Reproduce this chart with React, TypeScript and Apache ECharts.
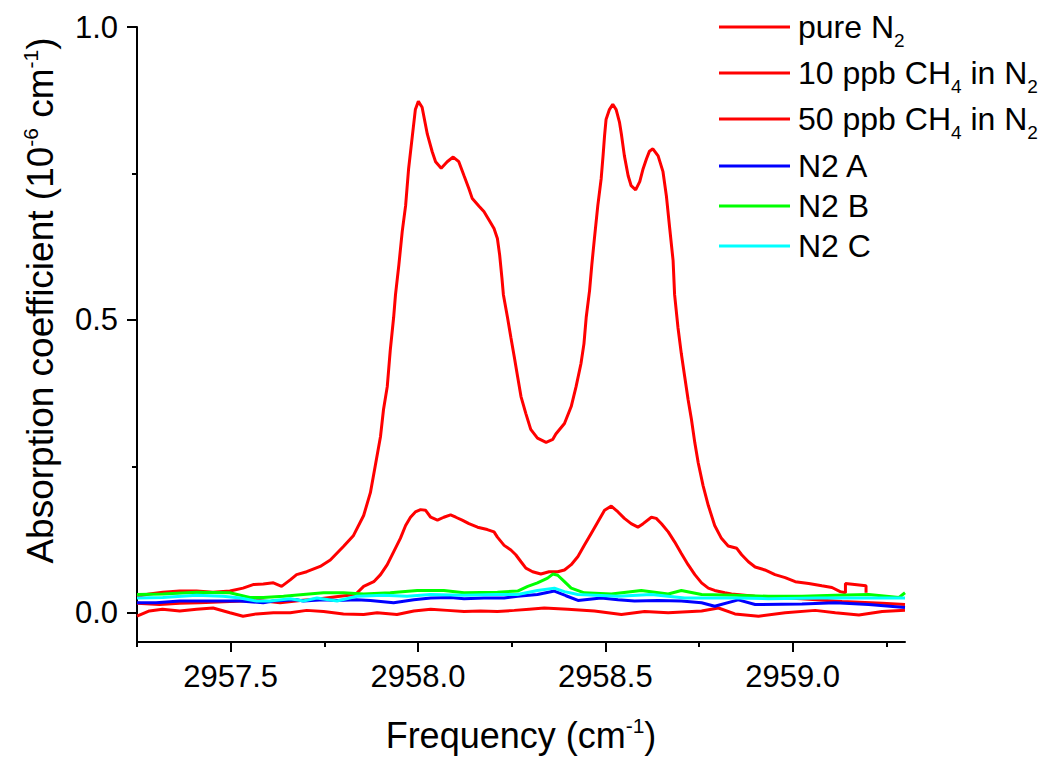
import React, { useEffect, useRef } from 'react';
import * as echarts from 'echarts';

const FONT = '"Liberation Sans", Arial, Helvetica, sans-serif';

const xMin = 2957.25;
const xMax = 2959.3;
const yMin = -0.05;
const yMax = 1.0;
const xMajorTicks = [2957.5, 2958.0, 2958.5, 2959.0];
const xMinorTicks = [2957.25, 2957.75, 2958.25, 2958.75, 2959.25];
const yMajorTicks = [0, 0.5, 1.0];
const yMinorTicks = [0.25, 0.75];

const seriesNames = ['pure N2', '10 ppb CH4 in N2', '50 ppb CH4 in N2', 'N2 A', 'N2 B', 'N2 C'];
const seriesColors = ['#ff0000', '#ff0000', '#ff0000', '#0000ff', '#00ff00', '#00ffff'];
const legendLabels = ['pure N{s|2}', '10 ppb CH{s|4} in N{s|2}', '50 ppb CH{s|4} in N{s|2}', 'N2 A', 'N2 B', 'N2 C'];

const freqPure = [2957.250, 2957.283, 2957.318, 2957.364, 2957.409, 2957.453, 2957.498, 2957.533, 2957.569, 2957.614, 2957.659, 2957.703, 2957.748, 2957.801, 2957.855, 2957.891, 2957.944, 2957.989, 2958.034, 2958.078, 2958.123, 2958.167, 2958.212, 2958.257, 2958.297, 2958.337, 2958.400, 2958.471, 2958.543, 2958.605, 2958.668, 2958.757, 2958.802, 2958.846, 2958.909, 2958.980, 2959.060, 2959.114, 2959.177, 2959.239, 2959.300];
const absPure = [-0.006, 0.003, 0.006, 0.003, 0.006, 0.008, 0.000, -0.006, -0.002, 0.000, 0.000, 0.004, 0.002, -0.002, -0.003, 0.000, -0.003, 0.003, 0.006, 0.004, 0.002, 0.003, 0.002, 0.004, 0.006, 0.008, 0.006, 0.003, -0.003, 0.002, 0.000, 0.003, 0.008, -0.002, -0.006, 0.000, 0.004, 0.000, -0.004, 0.002, 0.004];

const freq10 = [2957.250, 2957.310, 2957.364, 2957.417, 2957.498, 2957.578, 2957.632, 2957.686, 2957.739, 2957.792, 2957.833, 2957.855, 2957.882, 2957.900, 2957.918, 2957.935, 2957.953, 2957.967, 2957.980, 2957.993, 2958.007, 2958.020, 2958.034, 2958.052, 2958.069, 2958.087, 2958.101, 2958.118, 2958.136, 2958.159, 2958.185, 2958.203, 2958.212, 2958.230, 2958.248, 2958.261, 2958.275, 2958.288, 2958.306, 2958.328, 2958.350, 2958.373, 2958.391, 2958.409, 2958.427, 2958.444, 2958.462, 2958.480, 2958.498, 2958.516, 2958.534, 2958.551, 2958.569, 2958.587, 2958.601, 2958.623, 2958.636, 2958.650, 2958.668, 2958.685, 2958.703, 2958.721, 2958.739, 2958.757, 2958.775, 2958.792, 2958.819, 2958.837, 2958.899, 2959.024, 2959.132, 2959.239, 2959.300];
const abs10 = [0.016, 0.014, 0.016, 0.017, 0.019, 0.021, 0.017, 0.021, 0.024, 0.028, 0.031, 0.045, 0.053, 0.065, 0.082, 0.104, 0.127, 0.149, 0.163, 0.172, 0.176, 0.175, 0.163, 0.158, 0.163, 0.167, 0.163, 0.158, 0.152, 0.146, 0.142, 0.138, 0.129, 0.115, 0.107, 0.099, 0.087, 0.076, 0.070, 0.066, 0.070, 0.070, 0.073, 0.082, 0.096, 0.115, 0.135, 0.155, 0.175, 0.182, 0.172, 0.161, 0.152, 0.146, 0.152, 0.163, 0.161, 0.152, 0.138, 0.121, 0.101, 0.082, 0.065, 0.051, 0.042, 0.038, 0.034, 0.032, 0.028, 0.024, 0.019, 0.016, 0.014];

const freq50 = [2957.250, 2957.283, 2957.319, 2957.364, 2957.409, 2957.453, 2957.498, 2957.533, 2957.560, 2957.587, 2957.614, 2957.636, 2957.659, 2957.676, 2957.703, 2957.739, 2957.766, 2957.801, 2957.828, 2957.855, 2957.873, 2957.886, 2957.900, 2957.908, 2957.918, 2957.926, 2957.935, 2957.940, 2957.949, 2957.958, 2957.967, 2957.975, 2957.985, 2957.993, 2958.001, 2958.011, 2958.025, 2958.038, 2958.047, 2958.062, 2958.078, 2958.094, 2958.109, 2958.123, 2958.136, 2958.145, 2958.163, 2958.176, 2958.190, 2958.203, 2958.212, 2958.218, 2958.224, 2958.228, 2958.239, 2958.248, 2958.257, 2958.266, 2958.275, 2958.288, 2958.301, 2958.319, 2958.342, 2958.360, 2958.368, 2958.391, 2958.409, 2958.422, 2958.435, 2958.443, 2958.449, 2958.458, 2958.464, 2958.471, 2958.480, 2958.489, 2958.494, 2958.498, 2958.502, 2958.511, 2958.520, 2958.529, 2958.538, 2958.543, 2958.551, 2958.561, 2958.569, 2958.581, 2958.592, 2958.601, 2958.610, 2958.618, 2958.627, 2958.641, 2958.654, 2958.663, 2958.672, 2958.681, 2958.685, 2958.694, 2958.703, 2958.712, 2958.721, 2958.730, 2958.739, 2958.748, 2958.761, 2958.775, 2958.792, 2958.810, 2958.828, 2958.851, 2958.864, 2958.882, 2958.900, 2958.926, 2958.953, 2958.980, 2959.007, 2959.043, 2959.078, 2959.105, 2959.127, 2959.141, 2959.141, 2959.196, 2959.196];
const abs50 = [0.028, 0.032, 0.035, 0.037, 0.037, 0.035, 0.037, 0.042, 0.048, 0.049, 0.051, 0.045, 0.056, 0.065, 0.070, 0.079, 0.090, 0.113, 0.132, 0.166, 0.205, 0.251, 0.301, 0.347, 0.386, 0.448, 0.504, 0.543, 0.594, 0.651, 0.695, 0.758, 0.814, 0.859, 0.873, 0.863, 0.817, 0.787, 0.770, 0.759, 0.770, 0.778, 0.770, 0.746, 0.724, 0.707, 0.694, 0.685, 0.670, 0.656, 0.639, 0.611, 0.572, 0.543, 0.504, 0.470, 0.437, 0.403, 0.369, 0.340, 0.313, 0.298, 0.291, 0.296, 0.305, 0.323, 0.352, 0.386, 0.425, 0.459, 0.504, 0.550, 0.594, 0.639, 0.695, 0.741, 0.780, 0.814, 0.842, 0.859, 0.868, 0.859, 0.837, 0.817, 0.780, 0.746, 0.729, 0.722, 0.736, 0.758, 0.775, 0.788, 0.792, 0.780, 0.753, 0.712, 0.656, 0.601, 0.543, 0.487, 0.442, 0.403, 0.364, 0.330, 0.290, 0.256, 0.217, 0.183, 0.149, 0.127, 0.114, 0.110, 0.099, 0.087, 0.078, 0.073, 0.065, 0.060, 0.053, 0.050, 0.046, 0.043, 0.036, 0.034, 0.050, 0.046, 0.034];

const freqA = [2957.250, 2957.301, 2957.364, 2957.453, 2957.525, 2957.587, 2957.614, 2957.676, 2957.694, 2957.748, 2957.784, 2957.837, 2957.873, 2957.935, 2957.989, 2958.034, 2958.087, 2958.123, 2958.176, 2958.230, 2958.266, 2958.319, 2958.364, 2958.395, 2958.427, 2958.489, 2958.534, 2958.578, 2958.641, 2958.703, 2958.757, 2958.792, 2958.855, 2958.900, 2959.025, 2959.114, 2959.203, 2959.300];
const absA = [0.017, 0.017, 0.020, 0.020, 0.020, 0.017, 0.020, 0.022, 0.020, 0.022, 0.021, 0.022, 0.021, 0.017, 0.022, 0.025, 0.026, 0.024, 0.025, 0.025, 0.028, 0.031, 0.037, 0.029, 0.021, 0.025, 0.022, 0.020, 0.021, 0.020, 0.017, 0.011, 0.022, 0.014, 0.015, 0.017, 0.014, 0.009];

const freqB = [2957.250, 2957.319, 2957.409, 2957.498, 2957.551, 2957.587, 2957.641, 2957.694, 2957.748, 2957.801, 2957.855, 2957.926, 2957.998, 2958.069, 2958.123, 2958.212, 2958.266, 2958.293, 2958.319, 2958.346, 2958.360, 2958.373, 2958.391, 2958.409, 2958.444, 2958.516, 2958.596, 2958.668, 2958.703, 2958.757, 2958.846, 2958.935, 2959.025, 2959.114, 2959.203, 2959.284, 2959.300];
const absB = [0.031, 0.032, 0.035, 0.034, 0.026, 0.026, 0.028, 0.031, 0.034, 0.034, 0.032, 0.034, 0.038, 0.038, 0.034, 0.035, 0.037, 0.045, 0.051, 0.059, 0.066, 0.064, 0.053, 0.042, 0.034, 0.032, 0.038, 0.032, 0.038, 0.031, 0.030, 0.028, 0.028, 0.030, 0.031, 0.026, 0.034];

const freqC = [2957.250, 2957.319, 2957.409, 2957.480, 2957.525, 2957.569, 2957.605, 2957.659, 2957.694, 2957.730, 2957.784, 2957.837, 2957.908, 2957.971, 2958.034, 2958.123, 2958.212, 2958.266, 2958.319, 2958.364, 2958.391, 2958.427, 2958.534, 2958.623, 2958.712, 2958.846, 2958.935, 2959.069, 2959.203, 2959.300];
const absC = [0.025, 0.026, 0.030, 0.028, 0.025, 0.020, 0.020, 0.024, 0.020, 0.025, 0.020, 0.028, 0.030, 0.028, 0.031, 0.030, 0.031, 0.031, 0.038, 0.042, 0.036, 0.031, 0.028, 0.031, 0.025, 0.025, 0.024, 0.025, 0.025, 0.025];

const seriesFreq = [freqPure, freq10, freq50, freqA, freqB, freqC];
const seriesAbs = [absPure, abs10, abs50, absA, absB, absC];

function zip(xs: number[], ys: number[]) {
  const n = Math.min(xs.length, ys.length);
  const out: number[][] = [];
  for (let i = 0; i < n; i++) out.push([xs[i], ys[i]]);
  return out;
}

const black = '#000';
const tickLine = { color: black, width: 2 };

function buildOption() {
  const legendRich = {
    s: { fontSize: 19, lineHeight: 26, verticalAlign: 'bottom', fontFamily: FONT, color: black },
  };
  const fmtLegend = (name: string) => legendLabels[seriesNames.indexOf(name)] ?? name;
  const supRich = {
    sup: { fontSize: 21, lineHeight: 20, verticalAlign: 'top', fontFamily: FONT, color: black },
  };
  return {
    animation: false,
    backgroundColor: '#ffffff',
    textStyle: { fontFamily: FONT },
    grid: { left: 137, right: 143, top: 27, bottom: 112, containLabel: false },
    legend: [
      {
        data: seriesNames.slice(0, 3),
        orient: 'vertical',
        left: 719,
        top: 4,
        padding: 0,
        itemGap: 0,
        itemWidth: 71,
        itemHeight: 3,
        icon: 'rect',
        selectedMode: false,
        formatter: fmtLegend,
        textStyle: { fontSize: 32, lineHeight: 46, color: black, fontFamily: FONT, padding: [0, 0, 0, 3], rich: legendRich },
      },
      {
        data: seriesNames.slice(3),
        orient: 'vertical',
        left: 719,
        top: 146,
        padding: 0,
        itemGap: 0,
        itemWidth: 71,
        itemHeight: 3,
        icon: 'rect',
        selectedMode: false,
        textStyle: { fontSize: 32, lineHeight: 40, color: black, fontFamily: FONT, padding: [0, 0, 0, 3] },
      },
    ],
    xAxis: [
      {
        type: 'value',
        min: xMin,
        max: xMax,
        position: 'bottom',
        name: 'Frequency (cm{sup|-1})',
        nameLocation: 'middle',
        nameGap: 73,
        nameTextStyle: { fontSize: 36, lineHeight: 40, color: black, fontFamily: FONT, rich: supRich },
        axisLine: { show: true, onZero: false, lineStyle: { color: black, width: 2 } },
        axisTick: { show: true, inside: false, length: 10, customValues: xMajorTicks, lineStyle: tickLine },
        axisLabel: {
          show: true,
          customValues: xMajorTicks,
          formatter: (v: number) => v.toFixed(1),
          fontSize: 31,
          color: black,
          margin: 19,
          fontFamily: FONT,
        },
        splitLine: { show: false },
      },
      {
        type: 'value',
        min: xMin,
        max: xMax,
        position: 'bottom',
        axisLine: { show: false, onZero: false },
        axisTick: { show: true, inside: false, length: 5, customValues: xMinorTicks, lineStyle: tickLine },
        axisLabel: { show: false },
        splitLine: { show: false },
      },
    ],
    yAxis: [
      {
        type: 'value',
        min: yMin,
        max: yMax,
        position: 'left',
        name: 'Absorption coefficient (10{sup|-6} cm{sup|-1})',
        nameLocation: 'middle',
        nameGap: 77,
        nameTextStyle: { fontSize: 37, lineHeight: 40, color: black, fontFamily: FONT, padding: [0, 0, 0, 68], rich: supRich },
        axisLine: { show: true, onZero: false, lineStyle: { color: black, width: 2 } },
        axisTick: { show: true, inside: false, length: 10, customValues: yMajorTicks, lineStyle: tickLine },
        axisLabel: {
          show: true,
          customValues: yMajorTicks,
          formatter: (v: number) => v.toFixed(1),
          fontSize: 31,
          color: black,
          margin: 19,
          fontFamily: FONT,
        },
        splitLine: { show: false },
      },
      {
        type: 'value',
        min: yMin,
        max: yMax,
        position: 'left',
        axisLine: { show: false, onZero: false },
        axisTick: { show: true, inside: false, length: 5, customValues: yMinorTicks, lineStyle: tickLine },
        axisLabel: { show: false },
        splitLine: { show: false },
      },
    ],
    series: seriesNames.map((name, i) => ({
      name,
      type: 'line',
      xAxisIndex: 0,
      yAxisIndex: 0,
      data: zip(seriesFreq[i], seriesAbs[i]),
      showSymbol: false,
      symbol: 'none',
      silent: true,
      lineStyle: { width: 3, color: seriesColors[i] },
      itemStyle: { color: seriesColors[i] },
      z: 2 + i,
    })),
  };
}

export default function App() {
  const ref = useRef<HTMLDivElement>(null);
  useEffect(() => {
    if (!ref.current) return;
    const chart = echarts.init(ref.current, null, { renderer: 'svg' });
    chart.setOption(buildOption() as any);
    return () => chart.dispose();
  }, []);
  return (
    <div
      ref={ref}
      style={{ position: 'absolute', left: 0, top: 0, width: 1048, height: 760, background: '#fff' }}
    />
  );
}
